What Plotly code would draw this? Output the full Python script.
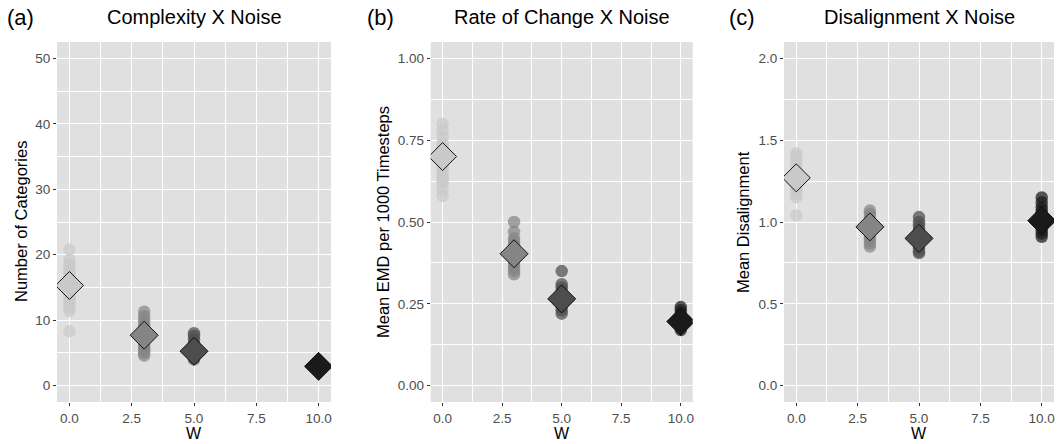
import plotly.graph_objects as go

W_levels = [0, 3, 5, 10]
fill_colors = ["#C9C9C9", "#858585", "#4D4D4D", "#1A1A1A"]

# Panel (a) Complexity: number of categories per run
a_w0 = [20.8, 19.2, 18.5, 18.0, 17.4, 16.9, 16.5, 16.0, 15.6, 15.2, 14.8, 14.3, 13.9, 13.4, 12.9, 12.4, 11.9, 11.4, 8.3]
a_w3 = [11.3, 10.6, 10.0, 9.4, 9.0, 8.6, 8.2, 7.8, 7.5, 7.2, 6.8, 6.5, 6.1, 5.8, 5.4, 5.0, 4.6]
a_w5 = [8.0, 7.6, 7.0, 6.5, 6.0, 5.6, 5.2, 4.9, 4.6, 4.3, 4.0]
a_w10 = [3.6, 3.4, 3.2, 3.0, 2.9, 2.7, 2.5, 2.3]
a_means = [15.3, 7.7, 5.25, 2.95]

# Panel (b) Rate of change
b_w0 = [0.80, 0.78, 0.76, 0.74, 0.73, 0.72, 0.71, 0.70, 0.69, 0.68, 0.67, 0.66, 0.65, 0.64, 0.63, 0.62, 0.60, 0.58]
b_w3 = [0.50, 0.47, 0.45, 0.44, 0.43, 0.42, 0.41, 0.40, 0.39, 0.38, 0.37, 0.36, 0.35, 0.34]
b_w5 = [0.35, 0.31, 0.30, 0.29, 0.28, 0.27, 0.26, 0.25, 0.24, 0.23, 0.22]
b_w10 = [0.24, 0.23, 0.22, 0.21, 0.20, 0.19, 0.18, 0.17]
b_means = [0.70, 0.403, 0.265, 0.196]

# Panel (c) Disalignment
c_w0 = [1.42, 1.40, 1.37, 1.34, 1.31, 1.29, 1.27, 1.25, 1.23, 1.21, 1.19, 1.17, 1.15, 1.04]
c_w3 = [1.07, 1.05, 1.03, 1.01, 0.99, 0.97, 0.95, 0.93, 0.91, 0.89, 0.87, 0.85]
c_w5 = [1.03, 1.00, 0.98, 0.96, 0.94, 0.92, 0.90, 0.88, 0.86, 0.84, 0.82, 0.81]
c_w10 = [1.15, 1.12, 1.09, 1.07, 1.05, 1.03, 1.01, 0.99, 0.97, 0.95, 0.93, 0.91]
c_means = [1.27, 0.97, 0.90, 1.008]

panel_titles = ["Complexity X Noise", "Rate of Change X Noise", "Disalignment X Noise"]
panel_tags = ["(a)", "(b)", "(c)"]
y_titles = ["Number of Categories", "Mean EMD per 1000 Timesteps", "Mean Disalignment"]
x_title = "W"
x_tickvals = [0, 2.5, 5, 7.5, 10]
x_ticktext = ["0.0", "2.5", "5.0", "7.5", "10.0"]

panels = [
    dict(groups=[a_w0, a_w3, a_w5, a_w10], means=a_means, yrange=[-2.5, 52.5], dtick=10, fmt="d"),
    dict(groups=[b_w0, b_w3, b_w5, b_w10], means=b_means, yrange=[-0.05, 1.05], dtick=0.25, fmt=".2f"),
    dict(groups=[c_w0, c_w3, c_w5, c_w10], means=c_means, yrange=[-0.1, 2.1], dtick=0.5, fmt=".1f"),
]

W, H = 1061, 444
TOP, BOT = 42, 402          # plot area in pixels
PH = BOT - TOP
px_domains = [(57, 331), (430.7, 692.7), (784, 1054)]
ytitle_x = [21, 383, 743]
tag_x = [5, 365, 727]


def py(ypix):
    return (BOT - ypix) / PH


FONT = "Liberation Sans, Arial, Helvetica, sans-serif"
BG = "#E0E0E0"

fig = go.Figure()
annotations = []
for i, p in enumerate(panels):
    xa = "x" if i == 0 else f"x{i+1}"
    ya = "y" if i == 0 else f"y{i+1}"
    for g, (w, vals) in enumerate(zip(W_levels, p["groups"])):
        fig.add_trace(go.Scatter(
            x=[w] * len(vals), y=vals, mode="markers", xaxis=xa, yaxis=ya,
            marker=dict(size=12.5, color=fill_colors[g], opacity=0.72, line=dict(width=0)),
            showlegend=False, hoverinfo="skip"))
    fig.add_trace(go.Scatter(
        x=W_levels, y=p["means"], mode="markers", xaxis=xa, yaxis=ya,
        marker=dict(symbol="diamond", size=21.5, color=fill_colors,
                    line=dict(color="#111111", width=1)),
        showlegend=False))

    d0 = px_domains[i][0] / W
    d1 = px_domains[i][1] / W
    axis_common = dict(showline=False, zeroline=False, gridcolor="white", gridwidth=1.4,
                       ticks="outside", ticklen=3, tickwidth=1, tickcolor="#333333",
                       automargin=False,
                       tickfont=dict(family=FONT, size=13.5, color="#4D4D4D"))
    fig.layout[("xaxis" if i == 0 else f"xaxis{i+1}")] = dict(
        domain=[d0, d1], range=[-0.5, 10.5], anchor=ya,
        tickvals=x_tickvals, ticktext=x_ticktext, ticklabelstandoff=1,
        minor=dict(tickvals=[1.25, 3.75, 6.25, 8.75], showgrid=True, gridcolor="white", gridwidth=0.7, ticks=""),
        **axis_common)
    yt = []
    v = 0.0
    while v <= p["yrange"][1] + 1e-9:
        yt.append(round(v, 4))
        v += p["dtick"]
    ymin = [round(t + p["dtick"] / 2, 4) for t in yt if t + p["dtick"] / 2 < p["yrange"][1]]
    fig.layout[("yaxis" if i == 0 else f"yaxis{i+1}")] = dict(
        domain=[0, 1], range=p["yrange"], anchor=xa,
        tickvals=yt, tickformat=p["fmt"],
        minor=dict(tickvals=ymin, showgrid=True, gridcolor="white", gridwidth=0.7, ticks=""),
        **axis_common)
    annotations.append(dict(
        text=y_titles[i], x=ytitle_x[i] / W, y=0.5,
        xref="paper", yref="paper", textangle=-90, showarrow=False,
        xanchor="center", yanchor="middle",
        font=dict(family=FONT, size=16.5, color="black")))
    annotations.append(dict(
        text=x_title, x=(d0 + d1) / 2, y=py(434),
        xref="paper", yref="paper", showarrow=False, xanchor="center", yanchor="middle",
        font=dict(family=FONT, size=16, color="black")))
    annotations.append(dict(
        text=panel_titles[i], x=(d0 + d1) / 2, y=py(17),
        xref="paper", yref="paper", showarrow=False, xanchor="center", yanchor="middle",
        font=dict(family=FONT, size=20, color="black")))
    annotations.append(dict(
        text=panel_tags[i], x=tag_x[i] / W, y=py(17),
        xref="paper", yref="paper", showarrow=False, xanchor="left", yanchor="middle",
        font=dict(family=FONT, size=22, color="black")))

fig.update_layout(
    width=W, height=H, margin=dict(l=0, r=0, t=TOP, b=H - BOT, pad=0),
    paper_bgcolor="white", plot_bgcolor=BG,
    annotations=annotations, font=dict(family=FONT),
)
fig.write_html(
    "out.html",
    config={"displayModeBar": False},
    post_script="document.body.style.margin='0';document.body.style.padding='0';"
                "document.body.style.overflow='hidden';",
)
